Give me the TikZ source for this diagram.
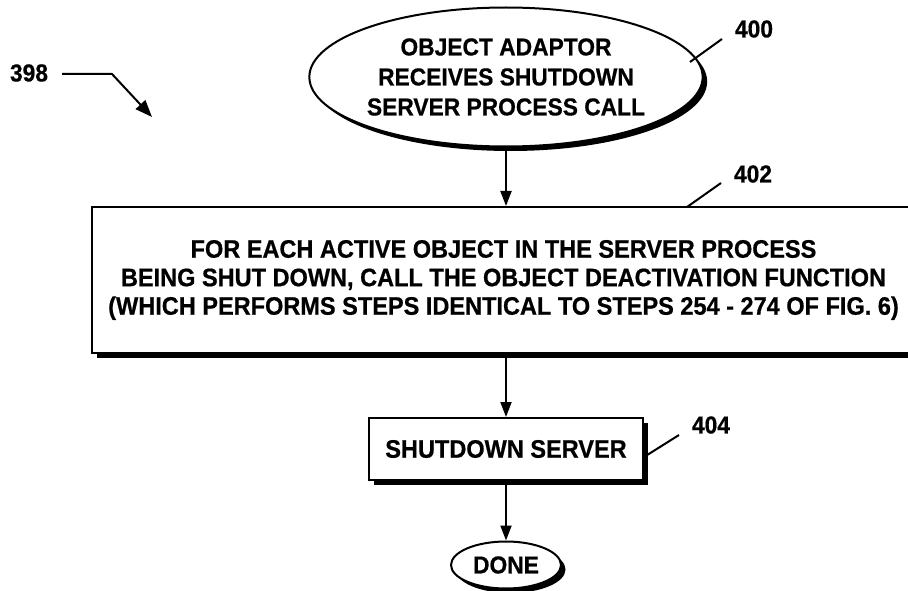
\documentclass[tikz,border=0pt]{standalone}
\usepackage{fontspec}
\setmainfont{Liberation Sans}[FakeStretch=0.93, FakeBold=0.6]
\usetikzlibrary{arrows.meta,shapes.geometric,shadows}

\tikzset{
  flow/.style={line width=2pt, -{Triangle[length=15pt,width=11pt]}},
  lead/.style={line width=2pt},
  shad/.style={drop shadow={shadow xshift=4.5pt, shadow yshift=-4.5pt, fill=black, opacity=1}},
  terminal/.style={ellipse, draw, line width=2pt, fill=white, shad, inner sep=0pt, align=center,
    font=\fontsize{24.5}{30}\selectfont\bfseries},
  stepbox/.style={rectangle, draw, line width=2pt, fill=white, shad, inner sep=0pt, align=center,
    font=\fontsize{25.3}{28.5}\selectfont\bfseries},
  ref/.style={font=\fontsize{24.5}{28}\selectfont\bfseries, inner sep=0pt}
}

\begin{document}
\begin{tikzpicture}[x=1pt, y=-1pt]
  \useasboundingbox (0,0) rectangle (908,591);

  % flow nodes
  \node[terminal, minimum width=368pt, minimum height=139pt] (recv) at (506,77)
    {OBJECT ADAPTOR\\RECEIVES SHUTDOWN\\SERVER PROCESS CALL};
  \node[stepbox, minimum width=823pt, minimum height=146pt] (deact) at (503.5,280)
    {FOR EACH ACTIVE OBJECT IN THE SERVER PROCESS\\
     BEING SHUT DOWN, CALL THE OBJECT DEACTIVATION FUNCTION\\
     (WHICH PERFORMS STEPS IDENTICAL TO STEPS 254 - 274 OF FIG. 6)};
  \node[stepbox, minimum width=274pt, minimum height=62pt] (shut) at (506,449) {SHUTDOWN SERVER};
  \node[terminal, minimum width=110pt, minimum height=47pt] (done) at (506,565) {DONE};

  % connectors
  \draw[flow] (recv) -- (recv |- deact.north);
  \draw[flow] (shut |- deact.south) -- (shut);
  \draw[flow] (shut) -- (done);

  % reference numerals
  \node[ref] (n398) at (29,73) {398};
  \coordinate (c398a) at (62,74);
  \coordinate (c398b) at (112,74);
  \coordinate (c398c) at (152,117);
  \draw[line width=2pt, -{Triangle[length=17pt,width=13pt]}] (c398a) -- (c398b) -- (c398c);

  \node[ref] (n400) at (754,29) {400};
  \coordinate (l400) at (722,39);
  \draw[lead] (690,62) -- (l400);

  \node[ref] (n402) at (753,174) {402};
  \coordinate (l402) at (721,183);
  \draw[lead] (687,207) -- (l402);

  \node[ref] (n404) at (711,425) {404};
  \coordinate (l404) at (679,435);
  \draw[lead] (shut.east |- 0,457) -- (l404);
\end{tikzpicture}
\end{document}
